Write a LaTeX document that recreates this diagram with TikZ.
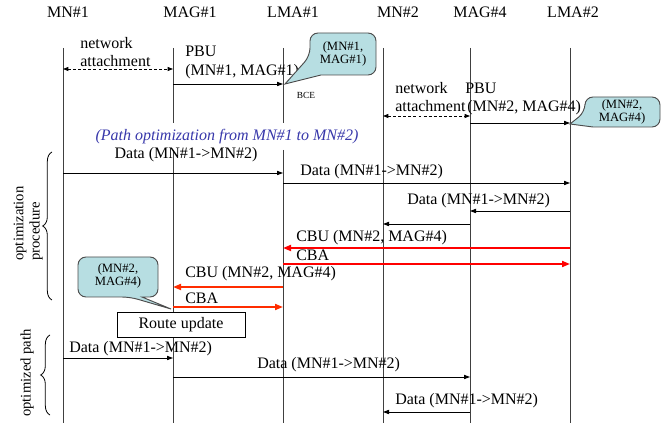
\documentclass[tikz,border=0pt]{standalone}
\usepackage{fontspec}
\setmainfont{Liberation Serif}
\usetikzlibrary{arrows.meta,decorations.pathreplacing}
\definecolor{calloutfill}{RGB}{183,222,226}
\definecolor{optblue}{RGB}{55,55,170}
\definecolor{cbred}{RGB}{255,0,0}
\definecolor{cbor}{RGB}{255,45,0}
\begin{document}
\begin{tikzpicture}[x=0.75pt,y=-0.75pt,
  lifeline/.style={draw=black!75,line width=0.7pt},
  msg/.style={draw=black,line width=0.6pt,-{Triangle[length=4.5pt,width=3.2pt]}},
  attach/.style={draw=black,line width=0.6pt,dash pattern=on 2.2pt off 1.6pt,{Triangle[length=4pt,width=3pt]}-{Triangle[length=4pt,width=3pt]}},
  redmsg/.style={draw=#1,line width=1.3pt,-{Triangle[length=6pt,width=4.5pt]}},
  hdr/.style={font=\fontsize{12}{14}\selectfont,inner sep=0pt},
  lbl/.style={font=\fontsize{12}{14}\selectfont,inner sep=0pt,text height=8pt,text depth=2pt},
  calltext/.style={font=\fontsize{9.5}{10}\selectfont,inner sep=0pt,align=center},
  callout/.style={draw=black!70,fill=calloutfill,line width=0.7pt},
  sidetext/.style={font=\fontsize{11}{13}\selectfont,inner sep=0pt,rotate=90},
  sidebrace/.style={decorate,decoration={brace,amplitude=7pt},draw=black,line width=0.6pt}
]
\useasboundingbox (0,0) rectangle (667,423);

% headers
\node[hdr] (hMN1) at (68,12) {MN\#1};
\node[hdr] (hMAG1) at (190,12) {MAG\#1};
\node[hdr] (hLMA1) at (293,12) {LMA\#1};
\node[hdr] (hMN2) at (398,12) {MN\#2};
\node[hdr] (hMAG4) at (480,12) {MAG\#4};
\node[hdr] (hLMA2) at (573,12) {LMA\#2};

% lifelines
\coordinate (MN1) at (63,48);   \coordinate (MN1b) at (63,423);
\coordinate (MAG1) at (173,48); \coordinate (MAG1m) at (173,123);
\coordinate (MAG1r) at (173,150); \coordinate (MAG1b) at (173,423);
\coordinate (LMA1) at (283,48); \coordinate (LMA1m) at (283,123);
\coordinate (LMA1r) at (283,150); \coordinate (LMA1b) at (283,423);
\coordinate (MN2) at (383,48);  \coordinate (MN2b) at (383,423);
\coordinate (MAG4) at (470,48); \coordinate (MAG4b) at (470,423);
\coordinate (LMA2) at (570,48); \coordinate (LMA2b) at (570,423);
\draw[lifeline] (MN1) -- (MN1b);
\draw[lifeline] (MAG1) -- (MAG1m);
\draw[lifeline] (MAG1r) -- (MAG1b);
\draw[lifeline] (LMA1) -- (LMA1m);
\draw[lifeline] (LMA1r) -- (LMA1b);
\draw[lifeline] (MN2) -- (MN2b);
\draw[lifeline] (MAG4) -- (MAG4b);
\draw[lifeline] (LMA2) -- (LMA2b);

% attachment 1 and PBU 1
\draw[attach] (MN1 |- 0,69) -- (MAG1 |- 0,69);
\node[lbl,anchor=west] (na1) at (80,45) {network};
\node[lbl,anchor=west] (na2) at (80,63) {attachment};
\draw[msg] (MAG1 |- 0,84) -- (LMA1 |- 0,84);
\node[lbl,anchor=west] (pbu1) at (185,53) {PBU};
\node[lbl,anchor=west] (pbu1b) at (185,72) {(MN\#1, MAG\#1)};

% callout 1
\draw[callout] (310,56) -- (285,84) -- (321,75) [rounded corners=6pt] -- (376,75) -- (376,33) -- (310,33) -- cycle;
\node[calltext] (c1) at (343,54) {(MN\#1,\\MAG\#1)};
\node[font=\fontsize{7}{8}\selectfont,inner sep=0pt] (bce) at (306,95) {BCE};

% attachment 2 and PBU 2
\draw[attach] (MN2 |- 0,116) -- (MAG4 |- 0,116);
\node[lbl,anchor=west] (nb1) at (395,90) {network};
\node[lbl,anchor=west] (nb2) at (395,108) {attachment};
\draw[msg] (MAG4 |- 0,123) -- (LMA2 |- 0,123);
\node[lbl,anchor=west] (pbu2) at (465,90) {PBU};
\node[lbl,anchor=west] (pbu2b) at (467,108) {(MN\#2, MAG\#4)};

% callout 2
\draw[callout] (585,112) -- (570,124) -- (593,127) [rounded corners=6pt] -- (660,127) -- (660,97) -- (585,97) -- cycle;
\node[calltext] (c2) at (622,112) {(MN\#2,\\MAG\#4)};

% title
\node[lbl,text=optblue,font=\fontsize{12}{14}\selectfont\itshape] (title) at (227,137) {(Path optimization from MN\#1 to MN\#2)};

% data before optimization
\draw[msg] (MN1 |- 0,173) -- (LMA1r |- 0,173);
\node[lbl] (d1) at (186,155) {Data (MN\#1->MN\#2)};
\draw[msg] (LMA1r |- 0,183) -- (LMA2 |- 0,183);
\node[lbl,anchor=west] (d2) at (300,172) {Data (MN\#1->MN\#2)};
\draw[msg] (LMA2 |- 0,211) -- (MAG4 |- 0,211);
\node[lbl,anchor=west] (d3) at (407,201) {Data (MN\#1->MN\#2)};
\draw[msg] (MAG4 |- 0,224) -- (MN2 |- 0,224);

% CBU / CBA
\draw[redmsg=cbred] (LMA2 |- 0,248) -- (LMA1r |- 0,248);
\node[lbl,anchor=west] (cbu1) at (296,238) {CBU (MN\#2, MAG\#4)};
\draw[redmsg=cbred] (LMA1r |- 0,264) -- (LMA2 |- 0,264);
\node[lbl,anchor=west] (cba1) at (296,257) {CBA};
\draw[redmsg=cbor] (LMA1r |- 0,287) -- (MAG1r |- 0,287);
\node[lbl,anchor=west] (cbu2) at (185,274) {CBU (MN\#2, MAG\#4)};
\draw[redmsg=cbor] (MAG1r |- 0,307) -- (LMA1r |- 0,307);
\node[lbl,anchor=west] (cba2) at (185,300) {CBA};

% callout 3
\draw[callout] (130,297) -- (171,309) -- (142,297) [rounded corners=6pt] -- (158,297) -- (158,257) -- (78,257) -- (78,297) -- cycle;
\node[calltext] (c3) at (118,276) {(MN\#2,\\MAG\#4)};

% route update
\node[draw=black,fill=white,line width=0.7pt,minimum width=96pt,minimum height=18.75pt,inner sep=0pt,font=\fontsize{12}{14}\selectfont] (ru) at (181,324.5) {Route update};

% optimized path data
\draw[msg] (MN1 |- 0,358) -- (MAG1r |- 0,358);
\node[lbl,anchor=west] (d4) at (69,349) {Data (MN\#1->MN\#2)};
\draw[msg] (MAG1r |- 0,377) -- (MAG4 |- 0,377);
\node[lbl,anchor=west] (d5) at (257,365) {Data (MN\#1->MN\#2)};
\draw[msg] (MAG4 |- 0,412) -- (MN2 |- 0,412);
\node[lbl,anchor=west] (d6) at (395,401) {Data (MN\#1->MN\#2)};

% braces
\coordinate (b1t) at (52,152); \coordinate (b1b) at (52,300);
\draw[sidebrace] (b1b) -- (b1t);
\node[sidetext,anchor=west] (op1) at (20,261) {optimization};
\node[sidetext,anchor=west] (op2) at (36,261) {procedure};
\coordinate (b2t) at (50,335); \coordinate (b2b) at (50,415);
\draw[sidebrace] (b2b) -- (b2t);
\node[sidetext] (op3) at (27,373) {optimized path};
\end{tikzpicture}
\end{document}
